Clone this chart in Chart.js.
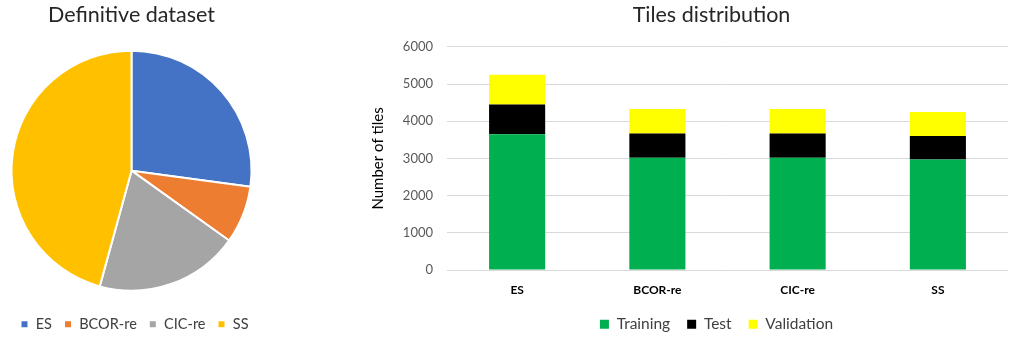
<!DOCTYPE html>
<html>
<head>
<meta charset="utf-8">
<script src="https://cdn.jsdelivr.net/npm/chart.js@4.4.1/dist/chart.umd.min.js"></script>
<style>
  body { margin: 0; background: #fff; width: 1009px; height: 338px; overflow: hidden; position: relative; }
  #pieWrap { position: absolute; left: 0; top: 0; width: 263px; height: 338px; }
  #barWrap { position: absolute; left: 355px; top: 0; width: 654px; height: 338px; }
</style>
</head>
<body>
<div id="pieWrap"><canvas id="pieChart"></canvas></div>
<div id="barWrap"><canvas id="barChart"></canvas></div>
<script>
// Pie: slides per dataset
const pieLabels = ["ES", "BCOR-re", "CIC-re", "SS"];
const pieValues = [35, 10, 25, 59];
const pieColors = ["#4472C4", "#ED7D31", "#A5A5A5", "#FFC000"];

// Bars: tiles per split
const barCategories = ["ES", "BCOR-re", "CIC-re", "SS"];
const trainingTiles = [3650, 3020, 3020, 2970];
const testTiles = [800, 650, 650, 630];
const validationTiles = [800, 660, 660, 645];
const yTicks = [0, 1000, 2000, 3000, 4000, 5000, 6000];

const font = "Lato, 'Open Sans', sans-serif";

// moves title / legend boxes after layout (Excel centres them differently)
const nudge = {
    id: "nudge",
    afterLayout(chart, args, opts) {
        const move = (box, d) => {
            if (!box || !d) return;
            box.left += d.dx || 0; box.right += d.dx || 0;
            box.top += d.dy || 0; box.bottom += d.dy || 0;
        };
        move(chart.titleBlock, opts.title);
        move(chart.legend, opts.legend);
    }
};

document.addEventListener("DOMContentLoaded", () => {
    const pieCtx = document.getElementById("pieChart").getContext("2d");
    new Chart(pieCtx, {
        type: "pie",
        data: {
            labels: pieLabels,
            datasets: [{
                data: pieValues,
                backgroundColor: pieColors,
                borderColor: "#fff",
                borderWidth: 2,
                radius: 120
            }]
        },
        plugins: [nudge],
        options: {
            responsive: true,
            maintainAspectRatio: false,
            animation: false,
            layout: { padding: 0 },
            plugins: {
                nudge: { legend: { dx: 3, dy: 3.5 } },
                title: {
                    display: true,
                    text: "Definitive dataset",
                    color: "#262626",
                    font: { family: font, size: 21.5, weight: "normal" },
                    padding: { top: 2, bottom: 12 }
                },
                legend: {
                    position: "bottom",
                    labels: {
                        color: "#404040",
                        font: { family: font, size: 14.5 },
                        boxWidth: 8,
                        boxHeight: 8,
                        padding: 12
                    }
                },
                tooltip: { enabled: false }
            }
        }
    });

    const barCtx = document.getElementById("barChart").getContext("2d");
    new Chart(barCtx, {
        type: "bar",
        data: {
            labels: barCategories,
            datasets: [
                { label: "Training", data: trainingTiles, backgroundColor: "#00B050" },
                { label: "Test", data: testTiles, backgroundColor: "#000000" },
                { label: "Validation", data: validationTiles, backgroundColor: "#FFFF00" }
            ]
        },
        plugins: [nudge],
        options: {
            responsive: true,
            maintainAspectRatio: false,
            animation: false,
            layout: { padding: { top: 0, bottom: -7, left: 0, right: 1 } },
            datasets: { bar: { barPercentage: 0.8, categoryPercentage: 0.5 } },
            scales: {
                x: {
                    stacked: true,
                    grid: { display: false },
                    border: { display: false },
                    ticks: {
                        color: "#000",
                        font: { family: font, size: 12, weight: "bold" },
                        padding: 5
                    }
                },
                y: {
                    stacked: true,
                    min: 0,
                    max: 6000,
                    afterBuildTicks: (scale) => {
                        scale.ticks = yTicks.map(v => ({ value: v }));
                    },
                    afterFit: (scale) => { scale.width = 92; },
                    grid: { color: "#d9d9d9", lineWidth: 1, drawTicks: false },
                    border: { display: false },
                    ticks: {
                        color: "#595959",
                        font: { family: font, size: 13 },
                        padding: 14,
                        callback: (v) => String(v)
                    },
                    title: {
                        display: true,
                        text: "Number of tiles",
                        color: "#000",
                        font: { family: font, size: 15 },
                        padding: { top: 14, bottom: 0 }
                    }
                }
            },
            plugins: {
                nudge: { title: { dx: 30 }, legend: { dx: 35, dy: -3 } },
                title: {
                    display: true,
                    text: "Tiles distribution",
                    color: "#262626",
                    font: { family: font, size: 21.5, weight: "normal" },
                    padding: { top: 2, bottom: 19 }
                },
                legend: {
                    position: "bottom",
                    labels: {
                        color: "#404040",
                        font: { family: font, size: 15.5 },
                        boxWidth: 9,
                        boxHeight: 9,
                        padding: 17
                    }
                },
                tooltip: { enabled: false }
            }
        }
    });
});
</script>
</body>
</html>
